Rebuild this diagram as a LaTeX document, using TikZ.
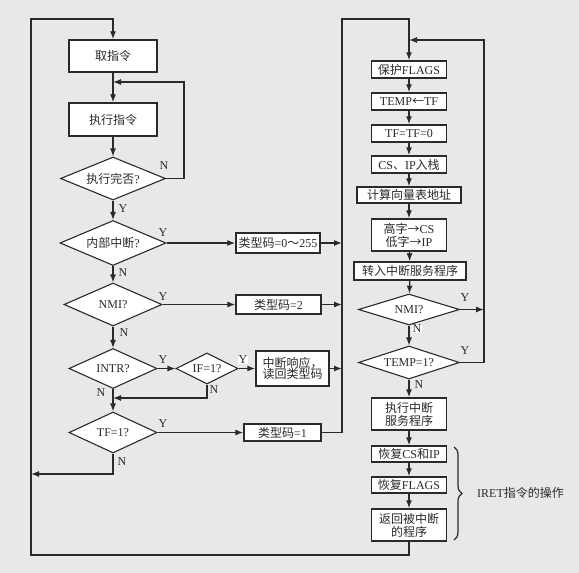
\documentclass[tikz,border=0pt]{standalone}
\usepackage{fontspec}
\setmainfont{Liberation Serif}
\newfontfamily\cjkfont{Noto Sans CJK SC}
\newcommand\zh[1]{{\cjkfont #1}}
\usetikzlibrary{shapes.geometric,arrows.meta,decorations.pathreplacing}
\definecolor{bg}{HTML}{E8E8E8}
\definecolor{lncol}{HTML}{2A2A2A}
\begin{document}
\begin{tikzpicture}[x=1pt,y=-1pt, font=\fontsize{12}{13}\selectfont, text=lncol,
  box/.style={draw=lncol, line width=1.4pt, fill=white, inner sep=1pt, align=center},
  dia/.style={diamond, draw=lncol, line width=1.1pt, fill=white, inner sep=0pt},
  arr/.style={draw=lncol, line width=1.2pt, -{Latex[length=8pt,width=6pt]}},
  conn/.style={draw=lncol, line width=1.2pt},
  lab/.style={inner sep=0.5pt}]
\fill[bg] (0,0) rectangle (579,573);

% ---------- left column ----------
\node[box, minimum width=88pt, minimum height=32pt] (fetch) at (113,56) {\zh{取指令}};
\node[box, minimum width=88pt, minimum height=33pt] (exec) at (113,119.5) {\zh{执行指令}};
\node[dia, aspect=2.4, minimum width=105pt, minimum height=43pt] (done) at (113,178.5) {\zh{执行完否}?};
\node[dia, aspect=2.4, minimum width=106pt, minimum height=45pt] (inner) at (113,243) {\zh{内部中断}?};
\node[dia, aspect=2.3, minimum width=98pt, minimum height=43pt] (nmi) at (113,304.5) {NMI?};
\node[dia, aspect=2.2, minimum width=88pt, minimum height=40pt] (intr) at (113,368.5) {INTR?};
\node[dia, aspect=2, minimum width=62pt, minimum height=31pt] (iff) at (207,368.5) {IF=1?};
\node[dia, aspect=2.2, minimum width=88pt, minimum height=41pt] (tf) at (113,432.5) {TF=1?};

\node[box, minimum width=84pt, minimum height=20pt] (t0) at (278,243) {\zh{类型码}=0\zh{～}255};
\node[box, minimum width=85pt, minimum height=19pt] (t2) at (278.5,304.5) {\zh{类型码}=2};
\node[box, minimum width=73pt, minimum height=35pt, font=\fontsize{12}{12.5}\selectfont] (ib) at (292.5,368.5) {\zh{中断响应，}\\[-1pt]\zh{读回类型码}};
\node[box, minimum width=77pt, minimum height=17pt] (t1) at (282.5,432.5) {\zh{类型码}=1};

% ---------- right column ----------
\node[box, minimum width=75pt, minimum height=17pt] (b1) at (409,69.5) {\zh{保护}FLAGS};
\node[box, minimum width=75pt, minimum height=17pt] (b2) at (409,101.5) {TEMP\zh{←}TF};
\node[box, minimum width=75pt, minimum height=17pt] (b3) at (409,133.5) {TF=TF=0};
\node[box, minimum width=75pt, minimum height=17pt] (b4) at (409,164.5) {CS\zh{、}IP\zh{入栈}};
\node[box, minimum width=104pt, minimum height=16pt] (b5) at (409,195) {\zh{计算向量表地址}};
\node[box, minimum width=75pt, minimum height=32pt, font=\fontsize{12}{13}\selectfont] (b6) at (409,235) {\zh{高字→}CS\\\zh{低字→}IP};
\node[box, minimum width=112pt, minimum height=18pt] (b7) at (410,271) {\zh{转入中断服务程序}};
\node[dia, aspect=3, minimum width=101pt, minimum height=31pt] (d1) at (409,309.5) {NMI?};
\node[dia, aspect=3, minimum width=101pt, minimum height=33pt] (d2) at (409,362.5) {TEMP=1?};
\node[box, minimum width=75pt, minimum height=32pt, font=\fontsize{12}{13}\selectfont] (b8) at (409,414) {\zh{执行中断}\\\zh{服务程序}};
\node[box, minimum width=75pt, minimum height=16pt] (b9) at (409,454) {\zh{恢复}CS\zh{和}IP};
\node[box, minimum width=75pt, minimum height=16pt] (b10) at (409,485) {\zh{恢复}FLAGS};
\node[box, minimum width=75pt, minimum height=32pt, font=\fontsize{12}{13}\selectfont] (b11) at (409,525) {\zh{返回被中断}\\\zh{的程序}};

% ---------- coordinates ----------
\coordinate (oBL) at (31,555);
\coordinate (oTL) at (31,19);
\coordinate (j1) at (113,82);
\coordinate (lp) at (184,82);
\coordinate (jIf) at (113,398);
\coordinate (jTf) at (31,474);
\coordinate (rT) at (342,19);
\coordinate (rB) at (342,432.5);
\coordinate (rR) at (484,40);
\coordinate (j2) at (409,40);
\coordinate (brT) at (454,447);
\coordinate (brB) at (454,540);

% ---------- connectors: left ----------
\draw[arr] (b11.south) |- (oBL) -- (oTL) -| (fetch.north);
\draw[arr] (fetch) -- (exec);
\draw[arr] (exec) -- (done);
\draw[arr] (done.east) -| (lp) -- (j1);
\draw[arr] (done) -- (inner);
\draw[arr] (inner) -- (nmi);
\draw[arr] (nmi) -- (intr);
\draw[arr] (intr) -- (tf);
\draw[arr] (inner.east) -- (t0.west);
\draw[arr] (t0.east) -- (t0.east -| rT);
\draw[arr] (nmi.east) -- (t2.west);
\draw[arr] (t2.east) -- (t2.east -| rT);
\draw[arr] (intr.east) -- (iff.west);
\draw[arr] (iff.east) -- (ib.west);
\draw[arr] (ib.east) -- (ib.east -| rT);
\draw[arr] (iff.south) |- (jIf);
\draw[arr] (tf.east) -- (t1.west);
\draw[arr] (t1.east) -- (rB) -- (rT) -| (b1.north);
\draw[arr] (tf.south) |- (jTf);

% ---------- connectors: right ----------
\draw[arr] (b1) -- (b2);
\draw[arr] (b2) -- (b3);
\draw[arr] (b3) -- (b4);
\draw[arr] (b4) -- (b5);
\draw[arr] (b5) -- (b6);
\draw[arr] (b6) -- (b7);
\draw[arr] (b7) -- (d1);
\draw[arr] (d1) -- (d2);
\draw[arr] (d2) -- (b8);
\draw[arr] (b8) -- (b9);
\draw[arr] (b9) -- (b10);
\draw[arr] (b10) -- (b11);
\draw[arr] (d2.east) -| (rR) -- (j2);
\draw[arr] (d1.east) -- (d1.east -| rR);

% brace
\draw[conn, decorate, decoration={brace, amplitude=8pt}] (brT) -- (brB);
\node[anchor=west, inner sep=0pt] (iret) at (477,493) {IRET\zh{指令的操作}};

% ---------- labels ----------
\node[lab] (lY1) at (123,209) {Y};
\node[lab] (lN1) at (164,166) {N};
\node[lab] (lY2) at (163,233) {Y};
\node[lab] (lN2) at (123,273) {N};
\node[lab] (lY3) at (163,297) {Y};
\node[lab] (lN3) at (124,333) {N};
\node[lab] (lY4) at (163,360) {Y};
\node[lab] (lN4) at (101,393) {N};
\node[lab, fill=white] (lY5) at (243,360) {Y};
\node[lab] (lN5) at (214,390) {N};
\node[lab] (lY6) at (163,424) {Y};
\node[lab] (lN6) at (122,462) {N};
\node[lab] (lY7) at (465,298) {Y};
\node[lab, fill=white] (lN7) at (417,329) {N};
\node[lab] (lY8) at (465,351) {Y};
\node[lab] (lN8) at (419,385) {N};
\end{tikzpicture}
\end{document}
